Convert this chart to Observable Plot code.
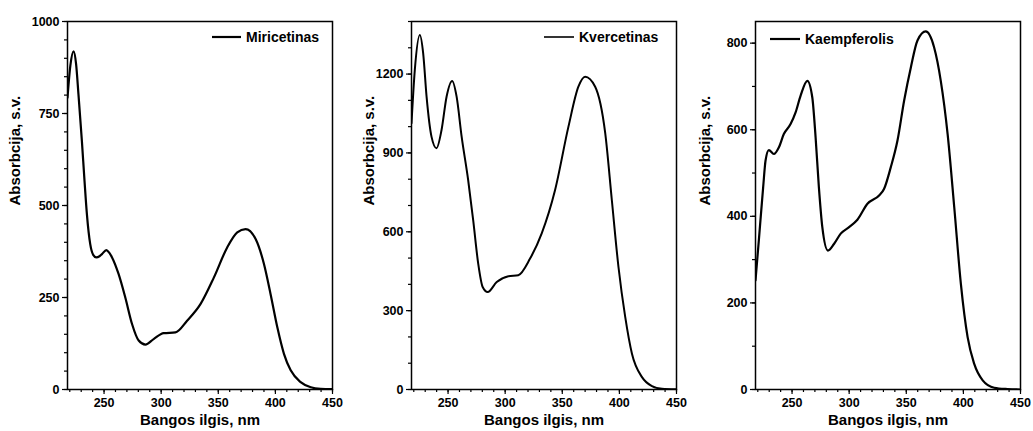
<!DOCTYPE html>
<html>
<head>
<meta charset="utf-8">
<script src="https://cdn.jsdelivr.net/npm/d3@7"></script>
<script src="https://cdn.jsdelivr.net/npm/@observablehq/plot@0.6"></script>
<style>
  html, body { margin: 0; padding: 0; background: #fff; }
  #row { display: flex; width: 1033px; height: 431px; }
  .panel { position: relative; }
  .panel svg text { font-weight: bold !important; font-family: "Liberation Sans", Arial, sans-serif !important; }
  .legend { position: absolute; font-family: "Liberation Sans", Arial, sans-serif; font-weight: bold; font-size: 14px; color: #000; }
</style>
</head>
<body>
<div id="row"></div>
<script>
// ---- Data ----
const xLabel = "Bangos ilgis, nm";
const yLabel = "Absorbcija, s.v.";
const names = ["Miricetinas", "Kvercetinas", "Kaempferolis"];

const wlMiricetinas = [218, 220.5, 223.3, 225.5, 227.6, 230.6, 232.9, 235.0, 237.9, 240.5, 243.2, 246, 248.2, 252.0, 254.5, 257.0, 262.7, 268.6, 274.5, 280.3, 286.2, 293.4, 302.2, 312.5, 322.7, 334.4, 346.1, 357.8, 366.6, 373.9, 382.7, 390, 395.8, 401.7, 407.5, 413.4, 422.1, 431, 439.7, 450];
const absMiricetinas = [793, 880, 919, 885, 802, 675, 567, 476, 395, 366, 359, 362, 368, 379, 372, 359, 314, 250, 178, 133, 122, 137, 153, 155, 187, 232, 304, 386, 427, 436, 409, 341, 259, 169, 97, 52, 20, 6, 2, 1];

const wlKvercetinas = [218, 220.9, 225.3, 228.2, 231.2, 235.5, 239.9, 244.3, 248.7, 253.6, 257.5, 261.9, 267.6, 272, 276.4, 280.3, 284.7, 292.6, 302.8, 311.5, 321.8, 332, 343.7, 355.4, 364.1, 370, 378.8, 387.6, 393.4, 399.2, 405.1, 411, 419.8, 428.5, 437.3, 450];
const absKvercetinas = [1013, 1216, 1349, 1280, 1114, 962, 918, 987, 1114, 1174, 1114, 962, 797, 644, 479, 390, 371, 409, 431, 435, 498, 594, 759, 1000, 1152, 1190, 1152, 975, 720, 466, 276, 136, 47, 13, 3, 1];

const wlKaempferolis = [218, 220.9, 224.7, 226.8, 229.7, 234.1, 238.4, 242.8, 248.7, 253.1, 257.5, 263.4, 267.7, 270.6, 273.5, 276.5, 281.4, 286.7, 292.6, 299.9, 307.2, 316, 326.2, 330.5, 336.4, 342.3, 348.1, 354, 359.8, 367.1, 374.4, 380.2, 386.2, 392, 397.8, 403.7, 409.5, 416.9, 427, 438.7, 450];
const absKaempferolis = [252, 344, 467, 529, 553, 544, 559, 590, 613, 640, 679, 713, 675, 583, 467, 375, 321, 336, 360, 375, 392, 429, 448, 463, 513, 575, 667, 744, 806, 827, 790, 713, 590, 421, 244, 121, 59, 21, 4, 1, 0];

const xDomain = [218, 450];
const xMajor = [250, 300, 350, 400, 450];
const xMinor = d3.range(220, 451, 10);

const yDomains = [[0, 1000], [0, 1400], [0, 850]];
const yMajors = [[0, 250, 500, 750, 1000], [0, 300, 600, 900, 1200], [0, 200, 400, 600, 800]];
const yMinors = [d3.range(0, 1001, 50), d3.range(0, 1401, 100), d3.range(0, 801, 100)];

// ---- Layout (panel sizes, margins, legend placement) ----
const panels = [
  {wl: wlMiricetinas, ab: absMiricetinas, width: 344, ml: 67, mr: 12, yLabelDx: -52, lineW: 2.2,
   legend: {left: 211, top: 28, lineLen: 29, lw: 2.2}},
  {wl: wlKvercetinas, ab: absKvercetinas, width: 345, ml: 67, mr: 13, yLabelDx: -42, lineW: 2,
   legend: {left: 199, top: 28, lineLen: 30, lw: 1.6}},
  {wl: wlKaempferolis, ab: absKaempferolis, width: 344, ml: 66, mr: 13, yLabelDx: -50, lineW: 2.2,
   legend: {left: 80, top: 30, lineLen: 30, lw: 2.2}}
];

const font = "'Liberation Sans', Arial, sans-serif";
const fmt = d3.format("d");
const row = document.getElementById("row");

panels.forEach((p, i) => {
  const data = p.wl.map((w, k) => ({w, a: p.ab[k]}));
  const chart = Plot.plot({
    width: p.width,
    height: 431,
    marginLeft: p.ml,
    marginRight: p.mr,
    marginTop: 21,
    marginBottom: 42,
    style: {fontFamily: font, fontSize: "12.5px", color: "#000", background: "#fff"},
    x: {domain: xDomain},
    y: {domain: yDomains[i]},
    marks: [
      Plot.axisX(xMinor, {tickSize: 3, tickFormat: () => "", strokeWidth: 1.2, label: null}),
      Plot.axisX(xMajor, {tickSize: 5, tickPadding: 4, tickFormat: fmt, strokeWidth: 1.2, label: null, fontSize: 12.5, fill: "#000"}),
      Plot.axisY(yMinors[i], {tickSize: 3, tickFormat: () => "", strokeWidth: 1.2, label: null}),
      Plot.axisY(yMajors[i], {tickSize: 5, tickPadding: 3, tickFormat: fmt, strokeWidth: 1.2, label: null, fontSize: 12.5, fill: "#000"}),
      Plot.line(data, {x: "w", y: "a", curve: "monotone-x", stroke: "#000", strokeWidth: p.lineW, clip: true}),
      Plot.frame({stroke: "#000", strokeWidth: 1.5}),
      Plot.text([xLabel], {frameAnchor: "bottom", dy: 35, fontSize: 15, fill: "#000"}),
      Plot.text([yLabel], {frameAnchor: "left", dx: p.yLabelDx, rotate: -90, fontSize: 15, fill: "#000"})
    ]
  });
  const wrap = document.createElement("div");
  wrap.className = "panel";
  wrap.style.width = p.width + "px";
  wrap.appendChild(chart);

  const lg = document.createElement("div");
  lg.className = "legend";
  lg.style.left = p.legend.left + "px";
  lg.style.top = p.legend.top + "px";
  const ns = "http://www.w3.org/2000/svg";
  const svg = document.createElementNS(ns, "svg");
  svg.setAttribute("width", 140);
  svg.setAttribute("height", 20);
  svg.style.display = "block";
  const ln = document.createElementNS(ns, "line");
  ln.setAttribute("x1", 1); ln.setAttribute("x2", 1 + p.legend.lineLen);
  ln.setAttribute("y1", 9); ln.setAttribute("y2", 9);
  ln.setAttribute("stroke", "#000"); ln.setAttribute("stroke-width", p.legend.lw);
  svg.appendChild(ln);
  const tx = document.createElementNS(ns, "text");
  tx.setAttribute("x", p.legend.lineLen + 6);
  tx.setAttribute("y", 14);
  tx.setAttribute("font-size", 14);
  tx.textContent = names[i];
  svg.appendChild(tx);
  lg.appendChild(svg);
  wrap.appendChild(lg);
  row.appendChild(wrap);
});
</script>
</body>
</html>
